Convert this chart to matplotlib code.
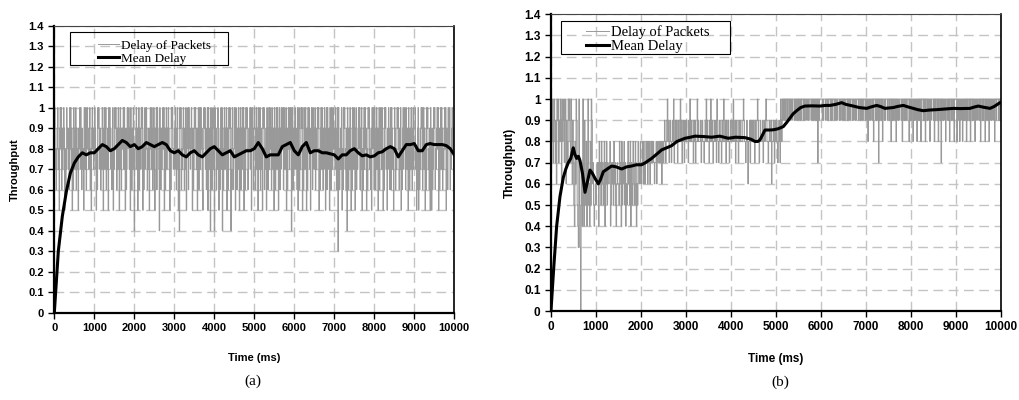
import numpy as np
import matplotlib.pyplot as plt
from matplotlib.patches import Rectangle
from matplotlib.ticker import FuncFormatter

# packet delay traces, one char per sample in tenths ("T" = 1.0)
delay_a = (
    "9T87689T7859T8T6978T95867T98796T8T79586T978T6987598T7T869785T97T68T9879T6859T897"
    "8T97586T9T789687T958T79T68795T8T97869T587T9T8697T859T76989T7T85967T98T795T8697T8"
    "4789T7958T6987T9T5869T78T9687958T97T869T7598T6T9874T86979T8T5968T798T97586T9T878"
    "97T869T7584T9T6879T8697T589T6T9879T85967T9T87958T69T7T89658T9T7968T5T8794T869T78"
    "4T89687T95869T7T4869T798T5968T9T7489T678T95T8697T958T697T8T5967T9T86798T7T59T869"
    "T968T795T87T69785T9T68795T869T7T896T8795T869T7T958T697T89T6T978T5968T97T8T49T697"
    "8T7986T59T687T9T586T97T8596T8T7958T96T879T6978T9T5869T7T8697T958T6T8795T96T87T98"
    "97T869T3T86797T586T9T78694T8697T9586T97T859T6879T8T697T5869T7T89586T9T78695T8T96"
    "T869T7958T68T97T9586T9T78597T869T6T97858T9687T9T8697T5869T78T96T8795T8697T968T79"
    "9T78569T58697T9T68T79586T9T78695T85967T9T6879T8T5968T7T96879T8T5976T98T6879T8978"
)
delay_b = (
    "9T8T79T8796T9T798T96T89T79T6987T9T87T969"
    "75486T9543T530754T54965847T56485T9675456"
    "5676748675867568476857667845767586754676"
    "6587648576857465786758476587658746587678"
    "6778687678786878678787876778687787878678"
    "7898789T8978987898T78989879889T897898798"
    "8988798T889887989788T898889789887898T898"
    "8798T8987898897T98789887989T889798898789"
    "8898T88978988798898889T98878986889798988"
    "9879889T98789888978989T98878988968898798"
    "89878987T98T9TT9T9TT9TT9T9TT9TTT9T9TT9T9"
    "TT9T9TTT9T9TT9TT9T9TTT9TT9T9TT9T9T7T9TTT"
    "TT9T9TTT9TT9T9TTT9T9TTT9TT9T9TTT9T9TT9TT"
    "9T9TTT9T9TT9TTT9T9TT9T9TTT9TT9T9TT9TTT9T"
    "T9T8TT9T9TT9T8TTT9T9TT7T9TT9T8TT9T9TTT9T"
    "T9TT8T9T9TT9T8TT9T9TTT9T8TT9T9TT9TTT8T9T"
    "9TT8T9T9TT8TT9T9T8TTT9T9T8TT9T9TT8T9TTT9"
    "T8T9TT9T8TT9T7TT9T9TT8TT9T9T8TT9TT9T8TTT"
    "T8TT9T8T9TT8T9T9TT8T9TT9T8TT9T9TT8T9TT9T"
    "T9T8TT9T9TT8T9TT9T8TT9T9TT9T8TT9TTT9T9TT"
)

# running mean of the delay, (a) sampled every 100 ms
mean_a = [0.00, 0.30, 0.47, 0.59, 0.68, 0.73, 0.76, 0.78, 0.77, 0.78,
          0.78, 0.80, 0.82, 0.81, 0.79, 0.80, 0.82, 0.84, 0.83, 0.81,
          0.82, 0.80, 0.81, 0.83, 0.82, 0.81, 0.82, 0.83, 0.82, 0.79,
          0.78, 0.79, 0.77, 0.76, 0.78, 0.79, 0.77, 0.76, 0.78, 0.80,
          0.81, 0.79, 0.77, 0.78, 0.79, 0.76, 0.77, 0.78, 0.79, 0.79,
          0.80, 0.83, 0.80, 0.76, 0.77, 0.77, 0.77, 0.81, 0.82, 0.83,
          0.79, 0.77, 0.81, 0.83, 0.78, 0.79, 0.79, 0.78, 0.78, 0.775,
          0.77, 0.75, 0.77, 0.77, 0.79, 0.80, 0.78, 0.765, 0.77, 0.76,
          0.765, 0.78, 0.785, 0.80, 0.81, 0.80, 0.76, 0.79, 0.82, 0.82,
          0.825, 0.79, 0.79, 0.82, 0.825, 0.82, 0.82, 0.82, 0.815, 0.80,
          0.77]
mean_a_t = np.arange(len(mean_a)) * 100

mean_b_t = [0, 60, 126, 200, 274, 330, 385, 440, 496, 530, 570, 610, 644, 700,
            756, 800, 867, 920, 978, 1052, 1100, 1163, 1250, 1348, 1450, 1570,
            1680, 1793, 1900, 2015, 2100, 2237, 2350, 2459, 2570, 2681, 2800,
            2978, 3100, 3200, 3400, 3570, 3750, 3941, 4100, 4311, 4450, 4533,
            4600, 4644, 4700, 4756, 4867, 4941, 5050, 5163, 5240, 5311, 5380,
            5459, 5550, 5644, 5800, 5978, 6100, 6200, 6330, 6459, 6550, 6718,
            6850, 7015, 7100, 7237, 7320, 7422, 7607, 7700, 7830, 7950, 8052,
            8150, 8274, 8400, 8570, 8750, 8941, 9100, 9311, 9400, 9496, 9600,
            9756, 9850, 9978, 10000]
mean_b = [0.0, 0.2, 0.40, 0.54, 0.63, 0.67, 0.70, 0.72, 0.77, 0.74, 0.72, 0.73,
          0.71, 0.65, 0.56, 0.60, 0.665, 0.65, 0.626, 0.60, 0.62, 0.657, 0.67,
          0.684, 0.68, 0.67, 0.68, 0.684, 0.69, 0.69, 0.70, 0.72, 0.74, 0.76,
          0.77, 0.78, 0.80, 0.815, 0.82, 0.825, 0.823, 0.82, 0.825, 0.815,
          0.82, 0.818, 0.81, 0.80, 0.80, 0.807, 0.83, 0.854, 0.854, 0.855,
          0.86, 0.87, 0.89, 0.91, 0.93, 0.945, 0.96, 0.967, 0.968, 0.967,
          0.97, 0.97, 0.975, 0.983, 0.975, 0.967, 0.96, 0.956, 0.962, 0.97,
          0.965, 0.956, 0.96, 0.965, 0.97, 0.962, 0.956, 0.95, 0.945, 0.948,
          0.95, 0.953, 0.956, 0.955, 0.956, 0.962, 0.967, 0.962, 0.956, 0.965,
          0.983, 0.983]

x_ticks = list(range(0, 10001, 1000))
y_ticks = [i / 10 for i in range(15)]


def decode(s):
    return np.array([10 if c == "T" else int(c) for c in s]) / 10.0


def draw_panel(ax, delay, mt, mv, ylabel, fs_tick, fs_leg, leg_anchor, box):
    d = decode(delay)
    t = np.linspace(0, 10000, len(d))
    ax.set_axisbelow(True)
    ax.grid(True, color="#c4c4c4", linestyle=(0, (7, 4)), linewidth=1)
    l1, = ax.plot(t, d, color="#999999", lw=0.7, drawstyle="steps-mid")
    l2, = ax.plot(mt, mv, color="black", lw=2.2)
    ax.set_xlim(0, 10000)
    ax.set_ylim(0, 1.4)
    ax.set_xticks(x_ticks)
    ax.set_yticks(y_ticks)
    ax.yaxis.set_major_formatter(FuncFormatter(lambda v, p: "%g" % round(v, 1)))
    ax.tick_params(direction="out", length=4, width=1)
    for lab in ax.get_xticklabels() + ax.get_yticklabels():
        lab.set_fontfamily("Liberation Sans")
        lab.set_fontweight("bold")
        lab.set_fontsize(fs_tick)
    ax.set_xlabel("Time (ms)", family="Liberation Sans", weight="bold",
                  fontsize=fs_tick, labelpad=14)
    ax.set_ylabel(ylabel, family="Liberation Sans", weight="bold",
                  fontsize=fs_tick, labelpad=6)
    for side in ["left", "bottom"]:
        ax.spines[side].set_linewidth(1.6)
    ax.spines["top"].set_color("#444444")
    ax.spines["right"].set_linewidth(1.2)
    ax.legend([l1, l2], ["Delay of Packets", "Mean Delay"], loc="upper left",
              bbox_to_anchor=leg_anchor, frameon=False, borderpad=0,
              handlelength=1.6, handletextpad=0.15, labelspacing=0.05,
              prop={"family": "Liberation Serif", "size": fs_leg})
    ax.add_patch(Rectangle((box[0], box[1]), box[2], box[3],
                           transform=ax.transAxes, fill=False,
                           edgecolor="black", lw=0.8, zorder=5))


fig = plt.figure(figsize=(10.19, 4), dpi=100)
ax1 = fig.add_axes([0.0533, 0.218, 0.3925, 0.718])
ax2 = fig.add_axes([0.5407, 0.2225, 0.4416, 0.7418])

draw_panel(ax1, delay_a, mean_a_t, mean_a, "Throughput", 8, 9.5,
           (0.092, 0.975), (0.039, 0.863, 0.395, 0.115))
draw_panel(ax2, delay_b, mean_b_t, mean_b, "Throughput)", 8.5, 10.5,
           (0.061, 0.988), (0.022, 0.866, 0.376, 0.111))

fig.text(253 / 1019, 1 - 381 / 400, "(a)", family="Liberation Serif",
         fontsize=11, ha="center", va="center")
fig.text(780 / 1019, 1 - 382 / 400, "(b)", family="Liberation Serif",
         fontsize=11, ha="center", va="center")

fig.savefig("out.png", dpi=100)
